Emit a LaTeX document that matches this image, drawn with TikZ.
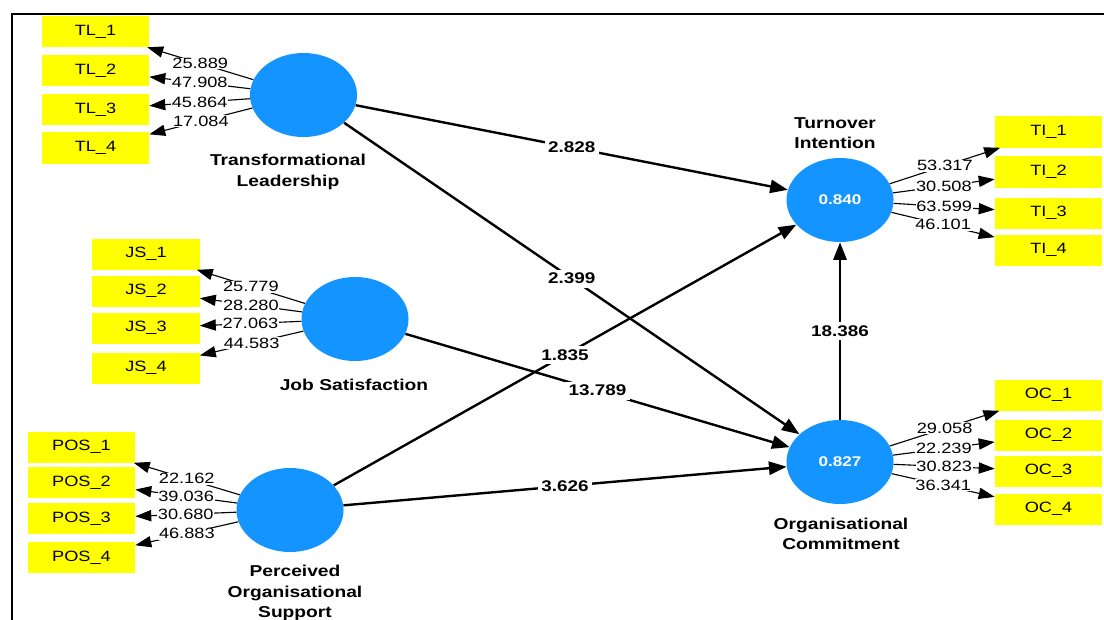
\documentclass[tikz,border=0pt]{standalone}
\usepackage{fontspec}
\setmainfont{Liberation Sans}[FakeStretch=1.22]
\usepackage{tikz}
\usetikzlibrary{shapes.geometric, arrows.meta, positioning, calc}
\definecolor{lvblue}{RGB}{20,148,255}
\definecolor{mvyellow}{RGB}{255,255,0}

\begin{document}
\begin{tikzpicture}[
    x=0.025cm, y=-0.025cm,
    font=\fontsize{10.6}{12}\selectfont,
    latent/.style={ellipse, fill=lvblue, minimum width=2.675cm, minimum height=2.1cm, inner sep=0pt, text=white, font=\fontsize{10}{12}\selectfont\bfseries},
    item/.style={rectangle, fill=mvyellow, minimum width=2.675cm, minimum height=0.775cm, inner sep=0pt},
    loadarrow/.style={-{Triangle[length=4mm, width=2.8mm]}, line width=0.8pt},
    effect/.style={-{Triangle[length=4.4mm, width=3.3mm]}, line width=1.7pt},
    lval/.style={fill=white, inner sep=0.5pt},
    pval/.style={fill=white, inner sep=2.5pt, font=\fontsize{11}{12}\selectfont\bfseries},
    lvname/.style={align=center, font=\fontsize{11.2}{14.6}\selectfont\bfseries}
]
    \useasboundingbox (0,0) rectangle (1104,619);
    \draw[line width=2pt] (12,640) -- (12,14) -- (1120,14);

    % latent variables
    \node[latent] (tl) at (303.5,95) {};
    \node[latent] (js) at (355,319) {};
    \node[latent] (pos) at (290,510) {};
    \node[latent] (ti) at (840,200) {0.840};
    \node[latent] (oc) at (840,462) {0.827};

    \node[lvname] at (288,172) {Transformational\\Leadership};
    \node[lvname] at (354,385) {Job Satisfaction};
    \node[lvname] at (295,593) {Perceived\\Organisational\\Support};
    \node[lvname] at (835,133) {Turnover\\Intention};
    \node[lvname] at (841,534) {Organisational\\Commitment};

    % indicators
    \foreach \i/\y in {1/31.5, 2/70.5, 3/109.5, 4/148}
        \node[item] (tl\i) at (95.5,\y) {TL\_\i};
    \foreach \i/\y in {1/254, 2/291, 3/328, 4/368}
        \node[item] (js\i) at (146,\y) {JS\_\i};
    \foreach \i/\y in {1/447, 2/482.5, 3/518.5, 4/557.5}
        \node[item] (pos\i) at (81.5,\y) {POS\_\i};
    \foreach \i/\y in {1/132, 2/172, 3/213, 4/250}
        \node[item] (ti\i) at (1048.5,\y) {TI\_\i};
    \foreach \i/\y in {1/395, 2/435, 3/471, 4/509}
        \node[item] (oc\i) at (1048.5,\y) {OC\_\i};

    % outer loadings
    \foreach \i/\v in {1/25.889, 2/47.908, 3/45.864, 4/17.084}
        \draw[loadarrow] (tl) -- node[lval] {\v} (tl\i);
    \foreach \i/\v in {1/25.779, 2/28.280, 3/27.063, 4/44.583}
        \draw[loadarrow] (js) -- node[lval] {\v} (js\i);
    \foreach \i/\v in {1/22.162, 2/39.036, 3/30.680, 4/46.883}
        \draw[loadarrow] (pos) -- node[lval] {\v} (pos\i);
    \foreach \i/\v in {1/53.317, 2/30.508, 3/63.599, 4/46.101}
        \draw[loadarrow] (ti) -- node[lval] {\v} (ti\i);
    \foreach \i/\v in {1/29.058, 2/22.239, 3/30.823, 4/36.341}
        \draw[loadarrow] (oc) -- node[lval] {\v} (oc\i);

    % inner model
    \draw[effect] (tl) -- node[pval] {2.828} (ti);
    \draw[effect] (tl) -- node[pval] {2.399} (oc);
    \draw[effect] (js) -- node[pval] {13.789} (oc);
    \draw[effect] (pos) -- node[pval] {1.835} (ti);
    \draw[effect] (pos) -- node[pval] {3.626} (oc);
    \draw[effect] (oc) -- node[pval] {18.386} (ti);
\end{tikzpicture}
\end{document}
